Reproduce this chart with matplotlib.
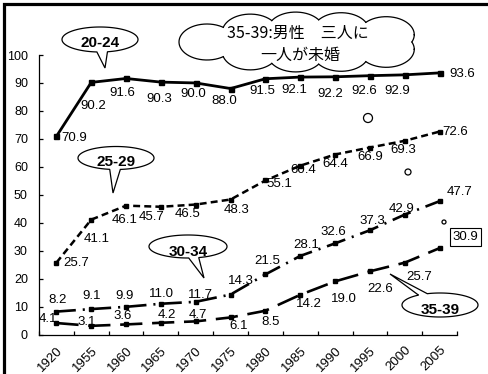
import numpy as np
import matplotlib
matplotlib.use('Agg')
import matplotlib.pyplot as plt
from matplotlib.patches import Circle, Ellipse, Polygon

plt.rcParams['font.family'] = ['Liberation Sans', 'Noto Sans CJK JP', 'DejaVu Sans']
plt.rcParams['lines.scale_dashes'] = False

years = ['1920', '1955', '1960', '1965', '1970', '1975',
         '1980', '1985', '1990', '1995', '2000', '2005']
age_20_24 = [70.9, 90.2, 91.6, 90.3, 90.0, 88.0, 91.5, 92.1, 92.2, 92.6, 92.9, 93.6]
age_25_29 = [25.7, 41.1, 46.1, 45.7, 46.5, 48.3, 55.1, 60.4, 64.4, 66.9, 69.3, 72.6]
age_30_34 = [8.2, 9.1, 9.9, 11.0, 11.7, 14.3, 21.5, 28.1, 32.6, 37.3, 42.9, 47.7]
age_35_39 = [4.1, 3.1, 3.6, 4.2, 4.7, 6.1, 8.5, 14.2, 19.0, 22.6, 25.7, 30.9]

# label offsets in pixels (dx, dy), dy positive = down
off_20_24 = [(18, 2), (2, 24), (-4, 15), (-2, 17), (-2, 11), (-6, 12),
             (-3, 12), (-6, 13), (-5, 17), (-6, 15), (-7, 16), (23, 1)]
off_25_29 = [(20, 0), (5, 19), (-1, 14), (-9, 10), (-8, 9), (6, 10),
             (14, 4), (3, 4), (0, 9), (0, 9), (-1, 9), (16, 0)]
off_30_34 = [(1, -12), (0, -13), (-2, -11), (1, -10), (5, -7), (10, -14),
             (2, -13), (6, -11), (-2, -11), (2, -9), (-3, -6), (20, -9)]
off_35_39 = [(-8, -4), (-5, -4), (-3, -8), (6, -8), (2, -6), (8, 9),
             (5, 11), (9, 9), (9, 18), (10, 18), (14, 14), (26, -11)]

W, H = 489, 374
fig = plt.figure(figsize=(W / 100, H / 100), dpi=100)
ax = fig.add_axes([39 / W, 1 - 334.5 / H, 418 / W, 279.5 / H])

x = np.arange(len(years))
series = [
    (age_20_24, off_20_24, dict(ls='-', lw=2.0, marker='s', ms=3.6)),
    (age_25_29, off_25_29, dict(ls=(0, (5, 3)), lw=1.8, marker='s', ms=3)),
    (age_30_34, off_30_34, dict(ls=(0, (14, 5, 1.5, 5)), lw=1.9, marker='s', ms=3)),
    (age_35_39, off_35_39, dict(ls=(0, (16, 7)), lw=1.9, marker='s', ms=3)),
]
for vals, offs, style in series:
    ax.plot(x, vals, color='black', zorder=3, **style)
    for i, v in enumerate(vals):
        dx, dy = offs[i]
        ax.annotate(f'{v:.1f}', (x[i], v), xytext=(dx, -dy),
                    textcoords='offset pixels', ha='center', va='center',
                    fontsize=9.5, zorder=2)

# boxed last value of 35-39
last = ax.texts[-1]
last.set_bbox(dict(boxstyle='square,pad=0.2', fc='white', ec='black', lw=0.8))

ax.set_xlim(-0.5, len(years) - 0.5)
ax.set_ylim(0, 100)
ax.set_yticks(range(0, 101, 10))
ax.set_xticks(x)
ax.set_xticklabels(years)
ax.set_xticks(np.arange(-0.5, len(years)), minor=True)
ax.tick_params(axis='x', which='major', length=0, pad=7, labelsize=9.5)
ax.tick_params(axis='x', which='minor', direction='in', length=3, width=0.9)
ax.tick_params(axis='y', direction='in', length=3, width=0.9, pad=8, labelsize=9)
plt.setp(ax.get_xticklabels(), rotation=45, ha='right', rotation_mode='anchor')
for s in ['top', 'right']:
    ax.spines[s].set_visible(False)
for s in ['left', 'bottom']:
    ax.spines[s].set_linewidth(0.9)

# overlay in pixel units for callouts and the frame
ov = fig.add_axes([0, 0, 1, 1], zorder=5)
ov.set_xlim(0, W)
ov.set_ylim(H, 0)
ov.axis('off')
ov.patch.set_visible(False)

ov.plot([3.5, 3.5, W], [H, 3.5, 3.5], color='black', lw=2.3,
        solid_joinstyle='miter')


def oval_callout(cx, cy, a, b, tip, delta, text, ty):
    tx, ty_tip = tip
    phi = np.arctan2((ty_tip - cy) / b, (tx - cx) / a)
    t = np.linspace(phi + delta, phi - delta + 2 * np.pi, 200)
    pts = np.column_stack([cx + a * np.cos(t), cy + b * np.sin(t)])
    pts = np.vstack([pts, [tip]])
    ov.add_patch(Polygon(pts, closed=True, fc='white', ec='black', lw=0.9))
    ov.text(cx, ty, text, ha='center', va='center', fontsize=11,
            fontweight='bold')


oval_callout(100, 39.5, 38, 12.5, (105, 68), 0.14, '20-24', 43)
oval_callout(116, 158, 38, 11.5, (113, 193), 0.14, '25-29', 162)
oval_callout(188, 246.5, 39, 11.5, (204, 278), 0.13, '30-34', 252)
oval_callout(440, 305, 38, 12, (390, 274), 0.13, '35-39', 310)


def cloud(cx, cy, a, b, rx, ry, n=9):
    # overlapping oval lobes on an ellipse; only the outer arcs get an outline
    t = np.linspace(0, 2 * np.pi, 2001)
    ex, ey = cx + a * np.cos(t), cy + b * np.sin(t)
    s = np.concatenate([[0], np.cumsum(np.hypot(np.diff(ex), np.diff(ey)))])
    tk = np.interp((np.arange(n) + 0.5) * s[-1] / n, s, t)
    centers = np.column_stack([cx + a * np.cos(tk), cy + b * np.sin(tk)])
    core_a, core_b = a, b + 0.5 * ry
    for c in centers:
        ov.add_patch(Ellipse(c, 2 * rx, 2 * ry, fc='white', ec='none', zorder=1))
    ov.add_patch(Ellipse((cx, cy), 2 * core_a, 2 * core_b, fc='white', ec='none', zorder=1))
    u = np.linspace(0, 2 * np.pi, 720)
    for k, c in enumerate(centers):
        px = c[0] + rx * np.cos(u)
        py = c[1] + ry * np.sin(u)
        keep = ((px - cx) / core_a) ** 2 + ((py - cy) / core_b) ** 2 > 1
        for j, o in enumerate(centers):
            if j != k:
                keep &= ((px - o[0]) / rx) ** 2 + ((py - o[1]) / ry) ** 2 > 1
        px = np.where(keep, px, np.nan)
        py = np.where(keep, py, np.nan)
        ov.plot(px, py, color='black', lw=0.9, zorder=1.5)


cloud(307, 42, 100, 12, 28, 18)
for (cx, cy, r) in [(368, 118, 4.5), (408, 172, 3), (444, 222, 2)]:
    ov.add_patch(Circle((cx, cy), r, fc='white', ec='black', lw=0.9))
ov.text(298, 33, '35-39:男性\u3000三人に', ha='center', va='center',
        fontsize=11.5, family=['Noto Sans CJK JP', 'DejaVu Sans'])
ov.text(300, 55, '一人が未婚', ha='center', va='center',
        fontsize=11.5, family=['Noto Sans CJK JP', 'DejaVu Sans'])

fig.savefig('out.png', dpi=100)
